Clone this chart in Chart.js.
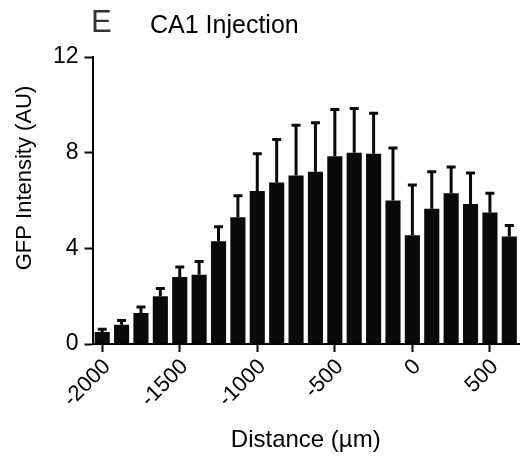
<!DOCTYPE html>
<html>
<head>
<meta charset="utf-8">
<script src="https://cdn.jsdelivr.net/npm/chart.js@4"></script>
<style>
  html, body { margin: 0; padding: 0; background: #fff; }
  #wrap { width: 520px; height: 460px; }
</style>
</head>
<body>
<div id="wrap"><canvas id="gfp" width="520" height="460"></canvas></div>
<script>
// Distance from injection site (um), 125 um bins
const distances = [-2000, -1875, -1750, -1625, -1500, -1375, -1250, -1125, -1000, -875, -750,
    -625, -500, -375, -250, -125, 0, 125, 250, 375, 500, 625];
// mean GFP intensity
const intensity = [0.5, 0.8, 1.3, 2.0, 2.8, 2.9, 4.3, 5.3, 6.4, 6.75, 7.05,
    7.2, 7.85, 8.0, 7.95, 6.0, 4.55, 5.65, 6.3, 5.85, 5.5, 4.5];
// upper error (SEM)
const errors = [0.12, 0.18, 0.25, 0.32, 0.42, 0.55, 0.6, 0.9, 1.55, 1.8, 2.1,
    2.05, 1.95, 1.85, 1.7, 2.2, 2.1, 1.55, 1.1, 1.3, 0.8, 0.45];
const yTicks = [0, 4, 8, 12];

const font = 'Liberation Sans, Arial, sans-serif';

// draws the upward error bars from the data through the scales
const errorBars = {
    id: 'errorBars',
    afterDatasetsDraw(chart) {
        const ctx = chart.ctx;
        const meta = chart.getDatasetMeta(0);
        const yScale = chart.scales.y;
        ctx.save();
        ctx.strokeStyle = '#0a0a0a';
        ctx.lineWidth = 3;
        meta.data.forEach((bar, i) => {
            const top = yScale.getPixelForValue(intensity[i]);
            const end = yScale.getPixelForValue(intensity[i] + errors[i]);
            ctx.beginPath();
            ctx.moveTo(bar.x, top);
            ctx.lineTo(bar.x, end);
            ctx.moveTo(bar.x - 4.5, end);
            ctx.lineTo(bar.x + 4.5, end);
            ctx.stroke();
        });
        ctx.restore();
    }
};

// panel letter, heading and y axis title
const heading = {
    id: 'heading',
    afterDraw(chart) {
        const ctx = chart.ctx;
        ctx.save();
        ctx.textBaseline = 'alphabetic';
        ctx.fillStyle = '#333';
        ctx.font = '31px ' + font;
        ctx.fillText('E', 91, 32);
        ctx.fillStyle = '#000';
        ctx.font = '25px ' + font;
        ctx.fillText('CA1 Injection', 150, 33);
        ctx.translate(25, 178);
        ctx.rotate(-Math.PI / 2);
        ctx.textAlign = 'center';
        ctx.textBaseline = 'middle';
        ctx.font = '22px ' + font;
        ctx.fillText('GFP Intensity (AU)', 0, 0);
        ctx.restore();
    }
};

let gfpChart = new Chart(document.getElementById('gfp'), {
    type: 'bar',
    data: {
        labels: distances,
        datasets: [{
            data: intensity,
            backgroundColor: '#0a0a0a',
            borderWidth: 0,
            barPercentage: 0.78,
            categoryPercentage: 1.0
        }]
    },
    options: {
        responsive: false,
        animation: false,
        layout: { padding: { top: 57, right: 1, left: 0, bottom: 0 } },
        plugins: {
            legend: { display: false },
            tooltip: { enabled: false }
        },
        scales: {
            x: {
                afterFit(scale) {
                    scale.height = 116;
                    scale.paddingLeft = 0;
                    scale.paddingRight = 0;
                },
                border: { color: '#000', width: 2 },
                grid: {
                    offset: false,
                    drawOnChartArea: false,
                    drawTicks: true,
                    tickLength: 8,
                    tickWidth: 2,
                    tickColor: (c) => (distances[c.index] % 500 === 0 ? '#000' : 'rgba(0,0,0,0)')
                },
                ticks: {
                    autoSkip: false,
                    maxRotation: 45,
                    minRotation: 45,
                    padding: 2,
                    labelOffset: 5,
                    color: '#000',
                    font: { family: font, size: 22 },
                    callback: function (v, i) {
                        return distances[i] % 500 === 0 ? String(distances[i]) : '';
                    }
                },
                title: {
                    display: true,
                    text: 'Distance (\u00b5m)',
                    color: '#000',
                    font: { family: font, size: 24 },
                    padding: { top: 0, bottom: 5 }
                }
            },
            y: {
                min: 0,
                max: 12,
                afterFit(scale) { scale.width = 92.5; },
                afterBuildTicks(scale) { scale.ticks = yTicks.map(v => ({ value: v })); },
                border: { color: '#000', width: 2 },
                grid: {
                    drawOnChartArea: false,
                    drawTicks: true,
                    tickLength: 8,
                    tickWidth: 2,
                    tickColor: '#000'
                },
                ticks: {
                    padding: 6,
                    color: '#000',
                    font: { family: font, size: 23 }
                }
            }
        }
    },
    plugins: [errorBars, heading]
});
</script>
</body>
</html>
